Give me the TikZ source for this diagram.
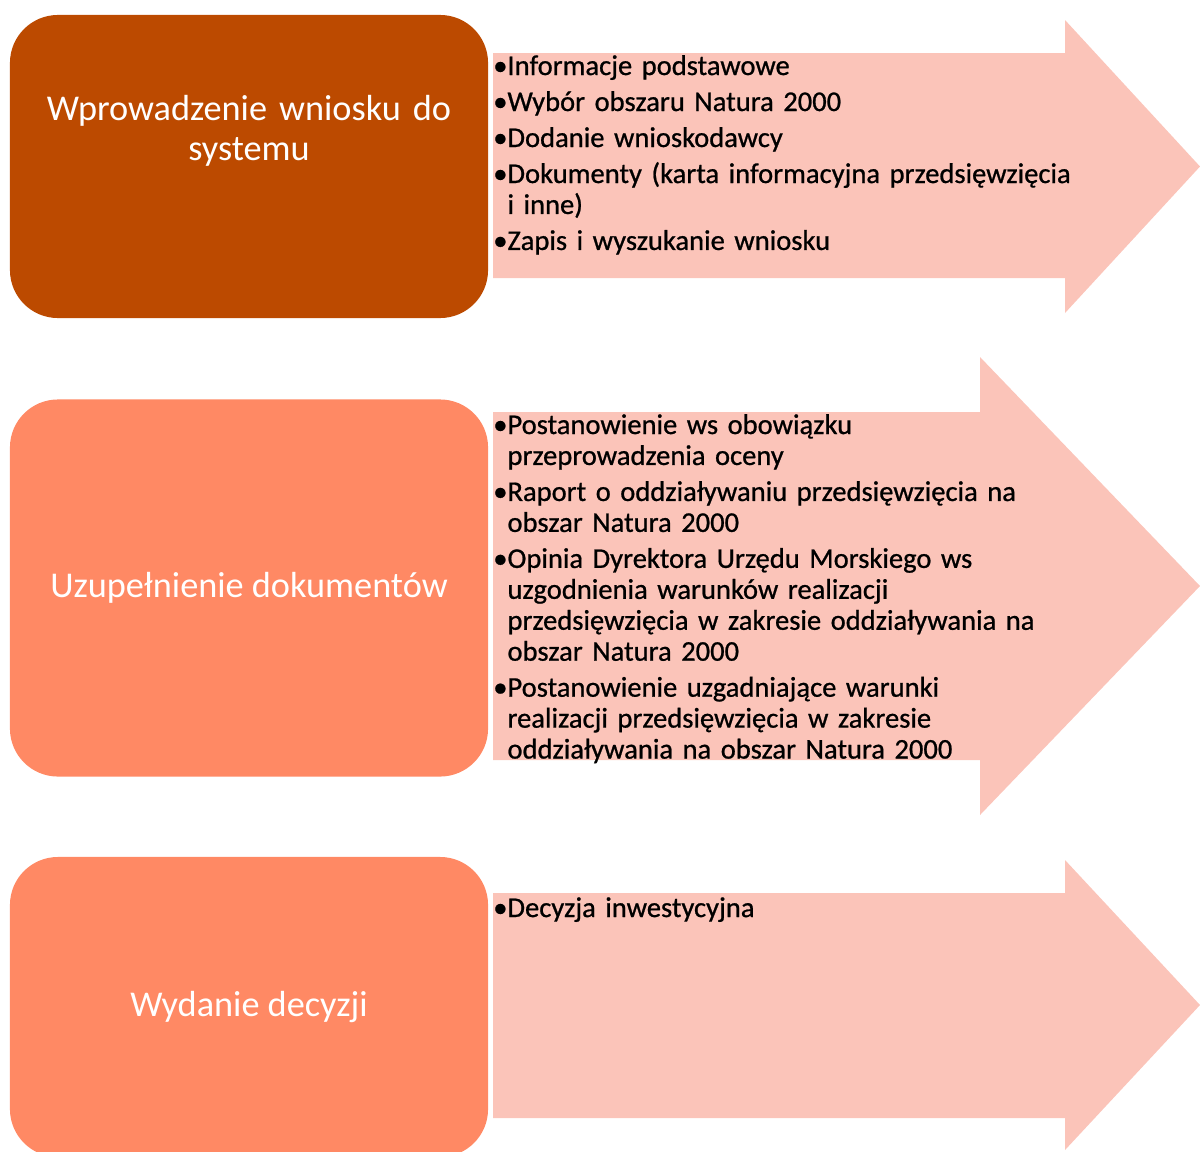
\documentclass[tikz,border=0pt]{standalone}
\usepackage{fontspec}
\setmainfont{Carlito}
\newfontfamily\listafont{Carlito}[FakeBold=0.8, WordSpace=0.85]
\usetikzlibrary{calc}

\definecolor{rdzawy}{RGB}{188,74,0}
\definecolor{lososiowy}{RGB}{255,137,100}
\definecolor{rozowy}{RGB}{251,196,185}

% punkt listy z wysunieciem kolejnych wierszy
\newlength{\bulw}
\newcommand{\pierwszy}{\settowidth{\bulw}{\textbullet}\hangindent=\bulw\hangafter=1\noindent\textbullet}
\newcommand{\punkt}{\par\pierwszy}

\begin{document}
\begin{tikzpicture}[x=0.025cm, y=-0.025cm,
    etap/.style={rounded corners=1.2cm, minimum width=11.95cm, inner sep=0pt,
        text=white, font=\fontsize{25.8pt}{28.5pt}\selectfont, align=center},
    punkty/.style={anchor=base west, inner sep=0pt, text width=17cm, align=left,
        font=\listafont\fontsize{20.3pt}{22pt}\selectfont,
        execute at begin node={\setlength{\parskip}{3.6pt}}}]

    \useasboundingbox (0,0) rectangle (1200,1151);

    % --- strzalki ---
    \fill[rozowy] (493,53) -- (1065,53) -- (1065,20) -- (1200,166.5)
        -- (1065,313) -- (1065,278) -- (493,278) -- cycle;
    \fill[rozowy] (493,412) -- (980,412) -- (980,357) -- (1200,586)
        -- (980,815) -- (980,760) -- (493,760) -- cycle;
    \fill[rozowy] (493,893) -- (1065,893) -- (1065,860) -- (1200,1005)
        -- (1065,1150) -- (1065,1118) -- (493,1118) -- cycle;

    % --- etapy ---
    \node[etap, fill=rdzawy, minimum height=7.575cm] (etap1) at (249,166.5) {};
    \node[font=\fontsize{25.8pt}{28.5pt}\selectfont, text=white, text width=11.5cm,
        align=center, inner sep=0pt, anchor=base] (opis1) at (249,120)
        {Wprowadzenie wniosku do\\systemu};
    \node[etap, fill=lososiowy, minimum height=9.425cm] (etap2) at (249,588)
        {Uzupełnienie dokumentów};
    \node[etap, fill=lososiowy, minimum height=7.5cm] (etap3) at (249,1007)
        {Wydanie decyzji};

    % --- listy ---
    \node[punkty] (lista1) at (493,75) {%
        \pierwszy Informacje podstawowe
        \punkt Wybór obszaru Natura 2000
        \punkt Dodanie wnioskodawcy
        \punkt Dokumenty (karta informacyjna przedsięwzięcia\newline i inne)
        \punkt Zapis i wyszukanie wniosku\par};
    \node[punkty] (lista2) at (493,434) {%
        \pierwszy Postanowienie ws obowiązku\newline przeprowadzenia oceny
        \punkt Raport o oddziaływaniu przedsięwzięcia na\newline obszar Natura 2000
        \punkt Opinia Dyrektora Urzędu Morskiego ws\newline uzgodnienia warunków realizacji\newline
            przedsięwzięcia w zakresie oddziaływania na\newline obszar Natura 2000
        \punkt Postanowienie uzgadniające warunki\newline realizacji przedsięwzięcia w zakresie\newline
            oddziaływania na obszar Natura 2000\par};
    \node[punkty] (lista3) at (493,917) {%
        \pierwszy Decyzja inwestycyjna\par};

\end{tikzpicture}
\end{document}
